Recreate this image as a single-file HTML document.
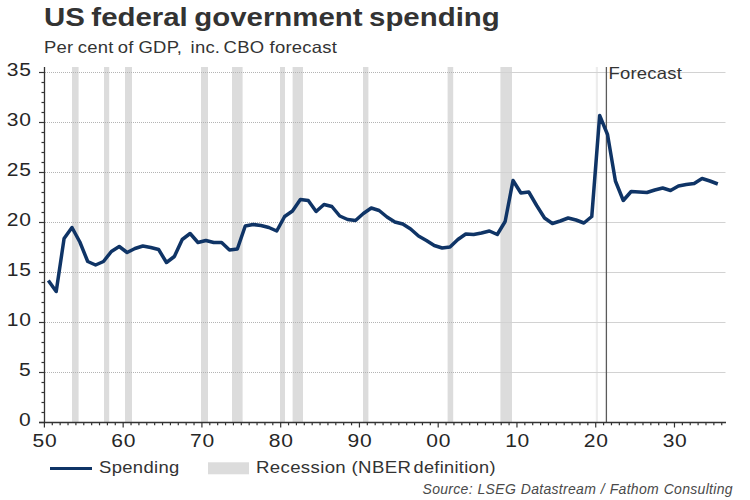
<!DOCTYPE html>
<html><head><meta charset="utf-8"><style>
html,body{margin:0;padding:0;background:#fff;width:750px;height:500px;overflow:hidden}
svg{display:block;font-family:"Liberation Sans",sans-serif}
</style></head><body>
<svg width="750" height="500" viewBox="0 0 750 500">
<rect x="72" y="67" width="6.60" height="355.5" fill="#dcdcdc"/>
<rect x="104" y="67" width="5.20" height="355.5" fill="#dcdcdc"/>
<rect x="125" y="67" width="7.00" height="355.5" fill="#dcdcdc"/>
<rect x="201" y="67" width="7.00" height="355.5" fill="#dcdcdc"/>
<rect x="232" y="67" width="10.60" height="355.5" fill="#dcdcdc"/>
<rect x="280" y="67" width="5.00" height="355.5" fill="#dcdcdc"/>
<rect x="292.6" y="67" width="10.40" height="355.5" fill="#dcdcdc"/>
<rect x="363" y="67" width="5.40" height="355.5" fill="#dcdcdc"/>
<rect x="447.6" y="67" width="5.60" height="355.5" fill="#dcdcdc"/>
<rect x="500.4" y="67" width="11.60" height="355.5" fill="#dcdcdc"/>
<rect x="595.8" y="67" width="2.10" height="355.5" fill="#ececec"/>
<line x1="45" y1="372.5" x2="479" y2="372.5" stroke="#b4b4b4" stroke-width="1" stroke-dasharray="1 1"/>
<line x1="479" y1="372.5" x2="725.5" y2="372.5" stroke="#d2d2d2" stroke-width="1"/>
<line x1="45" y1="322.5" x2="479" y2="322.5" stroke="#b4b4b4" stroke-width="1" stroke-dasharray="1 1"/>
<line x1="479" y1="322.5" x2="725.5" y2="322.5" stroke="#d2d2d2" stroke-width="1"/>
<line x1="45" y1="272.5" x2="479" y2="272.5" stroke="#b4b4b4" stroke-width="1" stroke-dasharray="1 1"/>
<line x1="479" y1="272.5" x2="725.5" y2="272.5" stroke="#d2d2d2" stroke-width="1"/>
<line x1="45" y1="222.5" x2="479" y2="222.5" stroke="#b4b4b4" stroke-width="1" stroke-dasharray="1 1"/>
<line x1="479" y1="222.5" x2="725.5" y2="222.5" stroke="#d2d2d2" stroke-width="1"/>
<line x1="45" y1="172.5" x2="479" y2="172.5" stroke="#b4b4b4" stroke-width="1" stroke-dasharray="1 1"/>
<line x1="479" y1="172.5" x2="725.5" y2="172.5" stroke="#d2d2d2" stroke-width="1"/>
<line x1="45" y1="122.5" x2="479" y2="122.5" stroke="#b4b4b4" stroke-width="1" stroke-dasharray="1 1"/>
<line x1="479" y1="122.5" x2="725.5" y2="122.5" stroke="#d2d2d2" stroke-width="1"/>
<line x1="45" y1="72.5" x2="479" y2="72.5" stroke="#b4b4b4" stroke-width="1" stroke-dasharray="1 1"/>
<line x1="479" y1="72.5" x2="725.5" y2="72.5" stroke="#d2d2d2" stroke-width="1"/>
<line x1="606.4" y1="67" x2="606.4" y2="422.5" stroke="#5a5a5a" stroke-width="1.3"/>
<g transform="translate(608.5,78.6) scale(1.12,1)"><text font-size="16.5" letter-spacing="0.2" fill="#333">Forecast</text></g>
<line x1="44.5" y1="67" x2="44.5" y2="422.5" stroke="#333" stroke-width="1.3"/>
<line x1="39" y1="422.5" x2="726" y2="422.5" stroke="#333" stroke-width="1.3"/>
<line x1="39" y1="422.5" x2="44.5" y2="422.5" stroke="#333" stroke-width="1.2"/>
<line x1="41.5" y1="412.5" x2="44.5" y2="412.5" stroke="#333" stroke-width="1.2"/>
<line x1="41.5" y1="402.5" x2="44.5" y2="402.5" stroke="#333" stroke-width="1.2"/>
<line x1="41.5" y1="392.5" x2="44.5" y2="392.5" stroke="#333" stroke-width="1.2"/>
<line x1="41.5" y1="382.5" x2="44.5" y2="382.5" stroke="#333" stroke-width="1.2"/>
<line x1="39" y1="372.5" x2="44.5" y2="372.5" stroke="#333" stroke-width="1.2"/>
<line x1="41.5" y1="362.5" x2="44.5" y2="362.5" stroke="#333" stroke-width="1.2"/>
<line x1="41.5" y1="352.5" x2="44.5" y2="352.5" stroke="#333" stroke-width="1.2"/>
<line x1="41.5" y1="342.5" x2="44.5" y2="342.5" stroke="#333" stroke-width="1.2"/>
<line x1="41.5" y1="332.5" x2="44.5" y2="332.5" stroke="#333" stroke-width="1.2"/>
<line x1="39" y1="322.5" x2="44.5" y2="322.5" stroke="#333" stroke-width="1.2"/>
<line x1="41.5" y1="312.5" x2="44.5" y2="312.5" stroke="#333" stroke-width="1.2"/>
<line x1="41.5" y1="302.5" x2="44.5" y2="302.5" stroke="#333" stroke-width="1.2"/>
<line x1="41.5" y1="292.5" x2="44.5" y2="292.5" stroke="#333" stroke-width="1.2"/>
<line x1="41.5" y1="282.5" x2="44.5" y2="282.5" stroke="#333" stroke-width="1.2"/>
<line x1="39" y1="272.5" x2="44.5" y2="272.5" stroke="#333" stroke-width="1.2"/>
<line x1="41.5" y1="262.5" x2="44.5" y2="262.5" stroke="#333" stroke-width="1.2"/>
<line x1="41.5" y1="252.5" x2="44.5" y2="252.5" stroke="#333" stroke-width="1.2"/>
<line x1="41.5" y1="242.5" x2="44.5" y2="242.5" stroke="#333" stroke-width="1.2"/>
<line x1="41.5" y1="232.5" x2="44.5" y2="232.5" stroke="#333" stroke-width="1.2"/>
<line x1="39" y1="222.5" x2="44.5" y2="222.5" stroke="#333" stroke-width="1.2"/>
<line x1="41.5" y1="212.5" x2="44.5" y2="212.5" stroke="#333" stroke-width="1.2"/>
<line x1="41.5" y1="202.5" x2="44.5" y2="202.5" stroke="#333" stroke-width="1.2"/>
<line x1="41.5" y1="192.5" x2="44.5" y2="192.5" stroke="#333" stroke-width="1.2"/>
<line x1="41.5" y1="182.5" x2="44.5" y2="182.5" stroke="#333" stroke-width="1.2"/>
<line x1="39" y1="172.5" x2="44.5" y2="172.5" stroke="#333" stroke-width="1.2"/>
<line x1="41.5" y1="162.5" x2="44.5" y2="162.5" stroke="#333" stroke-width="1.2"/>
<line x1="41.5" y1="152.5" x2="44.5" y2="152.5" stroke="#333" stroke-width="1.2"/>
<line x1="41.5" y1="142.5" x2="44.5" y2="142.5" stroke="#333" stroke-width="1.2"/>
<line x1="41.5" y1="132.5" x2="44.5" y2="132.5" stroke="#333" stroke-width="1.2"/>
<line x1="39" y1="122.5" x2="44.5" y2="122.5" stroke="#333" stroke-width="1.2"/>
<line x1="41.5" y1="112.5" x2="44.5" y2="112.5" stroke="#333" stroke-width="1.2"/>
<line x1="41.5" y1="102.5" x2="44.5" y2="102.5" stroke="#333" stroke-width="1.2"/>
<line x1="41.5" y1="92.5" x2="44.5" y2="92.5" stroke="#333" stroke-width="1.2"/>
<line x1="41.5" y1="82.5" x2="44.5" y2="82.5" stroke="#333" stroke-width="1.2"/>
<line x1="39" y1="72.5" x2="44.5" y2="72.5" stroke="#333" stroke-width="1.2"/>
<line x1="44.40" y1="422.5" x2="44.40" y2="427.5" stroke="#333" stroke-width="1.2"/>
<line x1="52.28" y1="422.5" x2="52.28" y2="425.3" stroke="#333" stroke-width="1.2"/>
<line x1="60.15" y1="422.5" x2="60.15" y2="425.3" stroke="#333" stroke-width="1.2"/>
<line x1="68.03" y1="422.5" x2="68.03" y2="425.3" stroke="#333" stroke-width="1.2"/>
<line x1="75.90" y1="422.5" x2="75.90" y2="425.3" stroke="#333" stroke-width="1.2"/>
<line x1="83.78" y1="422.5" x2="83.78" y2="425.3" stroke="#333" stroke-width="1.2"/>
<line x1="91.66" y1="422.5" x2="91.66" y2="425.3" stroke="#333" stroke-width="1.2"/>
<line x1="99.53" y1="422.5" x2="99.53" y2="425.3" stroke="#333" stroke-width="1.2"/>
<line x1="107.41" y1="422.5" x2="107.41" y2="425.3" stroke="#333" stroke-width="1.2"/>
<line x1="115.28" y1="422.5" x2="115.28" y2="425.3" stroke="#333" stroke-width="1.2"/>
<line x1="123.16" y1="422.5" x2="123.16" y2="427.5" stroke="#333" stroke-width="1.2"/>
<line x1="131.04" y1="422.5" x2="131.04" y2="425.3" stroke="#333" stroke-width="1.2"/>
<line x1="138.91" y1="422.5" x2="138.91" y2="425.3" stroke="#333" stroke-width="1.2"/>
<line x1="146.79" y1="422.5" x2="146.79" y2="425.3" stroke="#333" stroke-width="1.2"/>
<line x1="154.66" y1="422.5" x2="154.66" y2="425.3" stroke="#333" stroke-width="1.2"/>
<line x1="162.54" y1="422.5" x2="162.54" y2="425.3" stroke="#333" stroke-width="1.2"/>
<line x1="170.42" y1="422.5" x2="170.42" y2="425.3" stroke="#333" stroke-width="1.2"/>
<line x1="178.29" y1="422.5" x2="178.29" y2="425.3" stroke="#333" stroke-width="1.2"/>
<line x1="186.17" y1="422.5" x2="186.17" y2="425.3" stroke="#333" stroke-width="1.2"/>
<line x1="194.04" y1="422.5" x2="194.04" y2="425.3" stroke="#333" stroke-width="1.2"/>
<line x1="201.92" y1="422.5" x2="201.92" y2="427.5" stroke="#333" stroke-width="1.2"/>
<line x1="209.80" y1="422.5" x2="209.80" y2="425.3" stroke="#333" stroke-width="1.2"/>
<line x1="217.67" y1="422.5" x2="217.67" y2="425.3" stroke="#333" stroke-width="1.2"/>
<line x1="225.55" y1="422.5" x2="225.55" y2="425.3" stroke="#333" stroke-width="1.2"/>
<line x1="233.42" y1="422.5" x2="233.42" y2="425.3" stroke="#333" stroke-width="1.2"/>
<line x1="241.30" y1="422.5" x2="241.30" y2="425.3" stroke="#333" stroke-width="1.2"/>
<line x1="249.18" y1="422.5" x2="249.18" y2="425.3" stroke="#333" stroke-width="1.2"/>
<line x1="257.05" y1="422.5" x2="257.05" y2="425.3" stroke="#333" stroke-width="1.2"/>
<line x1="264.93" y1="422.5" x2="264.93" y2="425.3" stroke="#333" stroke-width="1.2"/>
<line x1="272.80" y1="422.5" x2="272.80" y2="425.3" stroke="#333" stroke-width="1.2"/>
<line x1="280.68" y1="422.5" x2="280.68" y2="427.5" stroke="#333" stroke-width="1.2"/>
<line x1="288.56" y1="422.5" x2="288.56" y2="425.3" stroke="#333" stroke-width="1.2"/>
<line x1="296.43" y1="422.5" x2="296.43" y2="425.3" stroke="#333" stroke-width="1.2"/>
<line x1="304.31" y1="422.5" x2="304.31" y2="425.3" stroke="#333" stroke-width="1.2"/>
<line x1="312.18" y1="422.5" x2="312.18" y2="425.3" stroke="#333" stroke-width="1.2"/>
<line x1="320.06" y1="422.5" x2="320.06" y2="425.3" stroke="#333" stroke-width="1.2"/>
<line x1="327.94" y1="422.5" x2="327.94" y2="425.3" stroke="#333" stroke-width="1.2"/>
<line x1="335.81" y1="422.5" x2="335.81" y2="425.3" stroke="#333" stroke-width="1.2"/>
<line x1="343.69" y1="422.5" x2="343.69" y2="425.3" stroke="#333" stroke-width="1.2"/>
<line x1="351.56" y1="422.5" x2="351.56" y2="425.3" stroke="#333" stroke-width="1.2"/>
<line x1="359.44" y1="422.5" x2="359.44" y2="427.5" stroke="#333" stroke-width="1.2"/>
<line x1="367.32" y1="422.5" x2="367.32" y2="425.3" stroke="#333" stroke-width="1.2"/>
<line x1="375.19" y1="422.5" x2="375.19" y2="425.3" stroke="#333" stroke-width="1.2"/>
<line x1="383.07" y1="422.5" x2="383.07" y2="425.3" stroke="#333" stroke-width="1.2"/>
<line x1="390.94" y1="422.5" x2="390.94" y2="425.3" stroke="#333" stroke-width="1.2"/>
<line x1="398.82" y1="422.5" x2="398.82" y2="425.3" stroke="#333" stroke-width="1.2"/>
<line x1="406.70" y1="422.5" x2="406.70" y2="425.3" stroke="#333" stroke-width="1.2"/>
<line x1="414.57" y1="422.5" x2="414.57" y2="425.3" stroke="#333" stroke-width="1.2"/>
<line x1="422.45" y1="422.5" x2="422.45" y2="425.3" stroke="#333" stroke-width="1.2"/>
<line x1="430.32" y1="422.5" x2="430.32" y2="425.3" stroke="#333" stroke-width="1.2"/>
<line x1="438.20" y1="422.5" x2="438.20" y2="427.5" stroke="#333" stroke-width="1.2"/>
<line x1="446.08" y1="422.5" x2="446.08" y2="425.3" stroke="#333" stroke-width="1.2"/>
<line x1="453.95" y1="422.5" x2="453.95" y2="425.3" stroke="#333" stroke-width="1.2"/>
<line x1="461.83" y1="422.5" x2="461.83" y2="425.3" stroke="#333" stroke-width="1.2"/>
<line x1="469.70" y1="422.5" x2="469.70" y2="425.3" stroke="#333" stroke-width="1.2"/>
<line x1="477.58" y1="422.5" x2="477.58" y2="425.3" stroke="#333" stroke-width="1.2"/>
<line x1="485.46" y1="422.5" x2="485.46" y2="425.3" stroke="#333" stroke-width="1.2"/>
<line x1="493.33" y1="422.5" x2="493.33" y2="425.3" stroke="#333" stroke-width="1.2"/>
<line x1="501.21" y1="422.5" x2="501.21" y2="425.3" stroke="#333" stroke-width="1.2"/>
<line x1="509.08" y1="422.5" x2="509.08" y2="425.3" stroke="#333" stroke-width="1.2"/>
<line x1="516.96" y1="422.5" x2="516.96" y2="427.5" stroke="#333" stroke-width="1.2"/>
<line x1="524.84" y1="422.5" x2="524.84" y2="425.3" stroke="#333" stroke-width="1.2"/>
<line x1="532.71" y1="422.5" x2="532.71" y2="425.3" stroke="#333" stroke-width="1.2"/>
<line x1="540.59" y1="422.5" x2="540.59" y2="425.3" stroke="#333" stroke-width="1.2"/>
<line x1="548.46" y1="422.5" x2="548.46" y2="425.3" stroke="#333" stroke-width="1.2"/>
<line x1="556.34" y1="422.5" x2="556.34" y2="425.3" stroke="#333" stroke-width="1.2"/>
<line x1="564.22" y1="422.5" x2="564.22" y2="425.3" stroke="#333" stroke-width="1.2"/>
<line x1="572.09" y1="422.5" x2="572.09" y2="425.3" stroke="#333" stroke-width="1.2"/>
<line x1="579.97" y1="422.5" x2="579.97" y2="425.3" stroke="#333" stroke-width="1.2"/>
<line x1="587.84" y1="422.5" x2="587.84" y2="425.3" stroke="#333" stroke-width="1.2"/>
<line x1="595.72" y1="422.5" x2="595.72" y2="427.5" stroke="#333" stroke-width="1.2"/>
<line x1="603.60" y1="422.5" x2="603.60" y2="425.3" stroke="#333" stroke-width="1.2"/>
<line x1="611.47" y1="422.5" x2="611.47" y2="425.3" stroke="#333" stroke-width="1.2"/>
<line x1="619.35" y1="422.5" x2="619.35" y2="425.3" stroke="#333" stroke-width="1.2"/>
<line x1="627.22" y1="422.5" x2="627.22" y2="425.3" stroke="#333" stroke-width="1.2"/>
<line x1="635.10" y1="422.5" x2="635.10" y2="425.3" stroke="#333" stroke-width="1.2"/>
<line x1="642.98" y1="422.5" x2="642.98" y2="425.3" stroke="#333" stroke-width="1.2"/>
<line x1="650.85" y1="422.5" x2="650.85" y2="425.3" stroke="#333" stroke-width="1.2"/>
<line x1="658.73" y1="422.5" x2="658.73" y2="425.3" stroke="#333" stroke-width="1.2"/>
<line x1="666.60" y1="422.5" x2="666.60" y2="425.3" stroke="#333" stroke-width="1.2"/>
<line x1="674.48" y1="422.5" x2="674.48" y2="427.5" stroke="#333" stroke-width="1.2"/>
<line x1="682.36" y1="422.5" x2="682.36" y2="425.3" stroke="#333" stroke-width="1.2"/>
<line x1="690.23" y1="422.5" x2="690.23" y2="425.3" stroke="#333" stroke-width="1.2"/>
<line x1="698.11" y1="422.5" x2="698.11" y2="425.3" stroke="#333" stroke-width="1.2"/>
<line x1="705.98" y1="422.5" x2="705.98" y2="425.3" stroke="#333" stroke-width="1.2"/>
<line x1="713.86" y1="422.5" x2="713.86" y2="425.3" stroke="#333" stroke-width="1.2"/>
<line x1="721.74" y1="422.5" x2="721.74" y2="425.3" stroke="#333" stroke-width="1.2"/>
<g transform="translate(31.5,426.0) scale(1.12,1)"><text font-size="18.8" letter-spacing="0.6" fill="#262626" text-anchor="end">0</text></g>
<g transform="translate(31.5,376.0) scale(1.12,1)"><text font-size="18.8" letter-spacing="0.6" fill="#262626" text-anchor="end">5</text></g>
<g transform="translate(31.5,326.0) scale(1.12,1)"><text font-size="18.8" letter-spacing="0.6" fill="#262626" text-anchor="end">10</text></g>
<g transform="translate(31.5,276.0) scale(1.12,1)"><text font-size="18.8" letter-spacing="0.6" fill="#262626" text-anchor="end">15</text></g>
<g transform="translate(31.5,226.0) scale(1.12,1)"><text font-size="18.8" letter-spacing="0.6" fill="#262626" text-anchor="end">20</text></g>
<g transform="translate(31.5,176.0) scale(1.12,1)"><text font-size="18.8" letter-spacing="0.6" fill="#262626" text-anchor="end">25</text></g>
<g transform="translate(31.5,126.0) scale(1.12,1)"><text font-size="18.8" letter-spacing="0.6" fill="#262626" text-anchor="end">30</text></g>
<g transform="translate(31.5,76.0) scale(1.12,1)"><text font-size="18.8" letter-spacing="0.6" fill="#262626" text-anchor="end">35</text></g>
<g transform="translate(44.9,446.6) scale(1.12,1)"><text font-size="18.8" letter-spacing="0.6" fill="#262626" text-anchor="middle">50</text></g>
<g transform="translate(123.7,446.6) scale(1.12,1)"><text font-size="18.8" letter-spacing="0.6" fill="#262626" text-anchor="middle">60</text></g>
<g transform="translate(202.4,446.6) scale(1.12,1)"><text font-size="18.8" letter-spacing="0.6" fill="#262626" text-anchor="middle">70</text></g>
<g transform="translate(281.2,446.6) scale(1.12,1)"><text font-size="18.8" letter-spacing="0.6" fill="#262626" text-anchor="middle">80</text></g>
<g transform="translate(359.9,446.6) scale(1.12,1)"><text font-size="18.8" letter-spacing="0.6" fill="#262626" text-anchor="middle">90</text></g>
<g transform="translate(438.7,446.6) scale(1.12,1)"><text font-size="18.8" letter-spacing="0.6" fill="#262626" text-anchor="middle">00</text></g>
<g transform="translate(517.5,446.6) scale(1.12,1)"><text font-size="18.8" letter-spacing="0.6" fill="#262626" text-anchor="middle">10</text></g>
<g transform="translate(596.2,446.6) scale(1.12,1)"><text font-size="18.8" letter-spacing="0.6" fill="#262626" text-anchor="middle">20</text></g>
<g transform="translate(675.0,446.6) scale(1.12,1)"><text font-size="18.8" letter-spacing="0.6" fill="#262626" text-anchor="middle">30</text></g>
<polyline points="48.34,280.50 56.21,291.50 64.09,238.50 71.97,227.50 79.84,242.00 87.72,261.50 95.59,265.00 103.47,261.50 111.35,251.50 119.22,246.50 127.10,252.50 134.97,248.50 142.85,246.00 150.73,247.50 158.60,249.50 166.48,262.50 174.35,256.50 182.23,239.50 190.11,233.50 197.98,242.50 205.86,240.50 213.73,242.50 221.61,242.50 229.49,250.00 237.36,249.00 245.24,226.00 253.11,224.50 260.99,225.50 268.87,227.50 276.74,231.00 284.62,216.50 292.49,211.00 300.37,199.50 308.25,200.50 316.12,211.50 324.00,204.50 331.87,206.50 339.75,216.00 347.63,219.50 355.50,220.50 363.38,213.50 371.25,208.00 379.13,210.50 387.01,217.00 394.88,222.00 402.76,224.00 410.63,229.00 418.51,236.00 426.39,240.50 434.26,245.50 442.14,248.00 450.01,247.00 457.89,239.50 465.77,234.00 473.64,234.50 481.52,233.00 489.39,231.00 497.27,234.50 505.15,221.50 513.02,180.50 520.90,193.00 528.77,192.00 536.65,205.50 544.53,218.00 552.40,223.50 560.28,221.00 568.15,218.00 576.03,220.00 583.91,223.00 591.78,216.50 599.66,115.50 607.53,134.50 615.41,181.00 623.29,200.50 631.16,191.50 639.04,192.00 646.91,192.50 654.79,190.00 662.67,188.00 670.54,190.50 678.42,186.00 686.29,184.50 694.17,183.50 702.05,178.50 709.92,181.00 717.80,184.00" fill="none" stroke="#0f3466" stroke-width="3.5" stroke-linejoin="round" stroke-linecap="butt"/>
<line x1="50" y1="468.4" x2="92" y2="468.4" stroke="#0f3466" stroke-width="3"/>
<g transform="translate(99,472.7) scale(1.12,1)"><text font-size="16.5" letter-spacing="0.3" fill="#333">Spending</text></g>
<rect x="208" y="462.3" width="41" height="12" fill="#dcdcdc"/>
<g transform="translate(256,472.7) scale(1.13,1)"><text font-size="16.5" letter-spacing="0.3" fill="#333">Recession (NBER</text></g>
<g transform="translate(413.5,472.7) scale(1.1,1)"><text font-size="16.5" letter-spacing="0.3" fill="#333" letter-spacing="0.1">definition)</text></g>
<text x="422.5" y="493.8" font-size="14" font-style="italic" letter-spacing="0.3" word-spacing="0.5" fill="#4a4a4a">Source: LSEG Datastream / Fathom Consulting</text>
<g transform="translate(44,26.3) scale(1.11,1)"><text font-size="26.5" font-weight="bold" word-spacing="-1.5" fill="#333">US federal government spending</text></g>
<g transform="translate(44,53) scale(1.12,1)"><text font-size="16.5" letter-spacing="0.2" fill="#333">Per</text></g>
<g transform="translate(77.7,53) scale(1.12,1)"><text font-size="16.5" letter-spacing="0.2" fill="#333">cent</text></g>
<g transform="translate(117.7,53) scale(1.12,1)"><text font-size="16.5" letter-spacing="0.2" fill="#333">of</text></g>
<g transform="translate(138.5,53) scale(1.12,1)"><text font-size="16.5" letter-spacing="0.2" fill="#333">GDP,</text></g>
<g transform="translate(190.6,53) scale(1.12,1)"><text font-size="16.5" letter-spacing="0.2" fill="#333">inc.</text></g>
<g transform="translate(223.6,53) scale(1.12,1)"><text font-size="16.5" letter-spacing="0.2" fill="#333">CBO</text></g>
<g transform="translate(269.6,53) scale(1.12,1)"><text font-size="16.5" letter-spacing="0.2" fill="#333">forecast</text></g>
</svg>
</body></html>
